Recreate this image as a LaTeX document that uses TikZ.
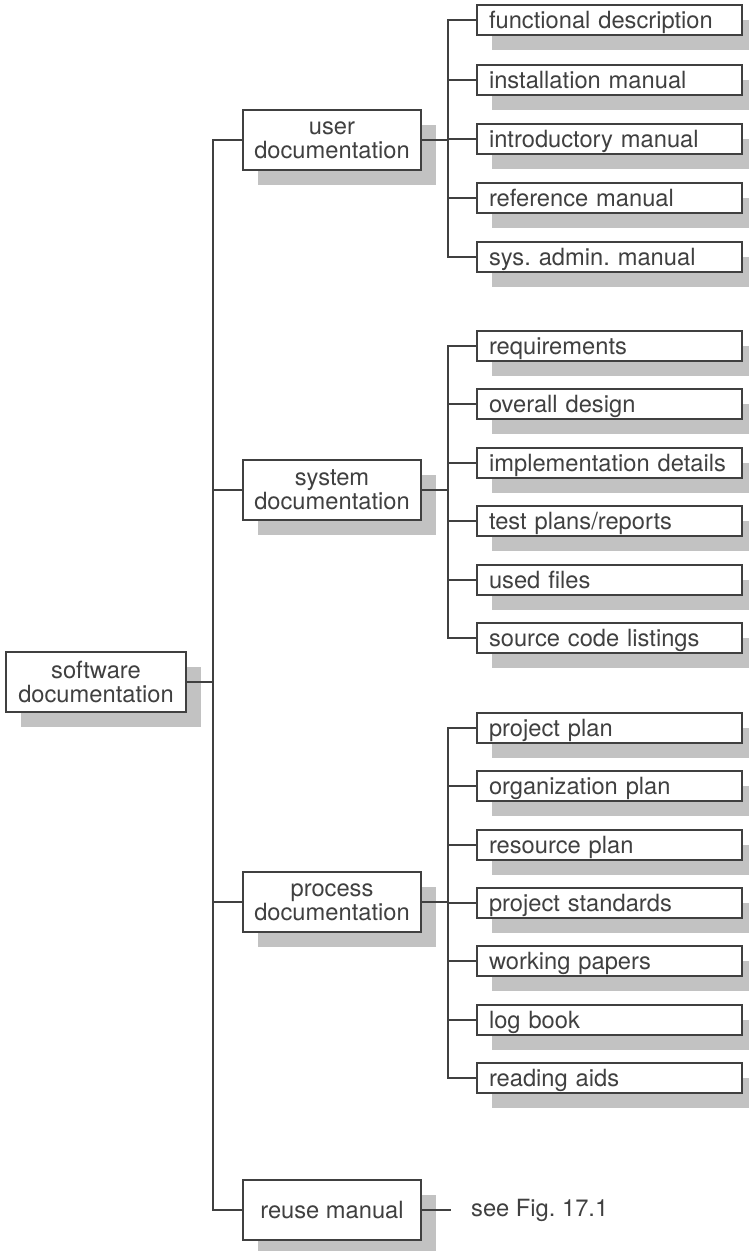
\documentclass[tikz,border=0pt]{standalone}
\usepackage{fontspec}
\setmainfont{TeX Gyre Heros}
\frenchspacing
\usetikzlibrary{shadows}
\begin{document}
\begin{tikzpicture}[x=1pt,y=-1pt,
  ink/.style={draw=black!75, line width=1.8pt},
  shade/.style={drop shadow={shadow xshift=15pt, shadow yshift=-15pt, fill=black!24, opacity=1}},
  box/.style={ink, fill=white, shade, text=black!75, inner sep=0pt,
    font=\fontsize{23.7}{23.7}\selectfont},
  midbox/.style={box, minimum width=178pt, minimum height=60pt, align=center},
  leaf/.style={box, minimum height=30.5pt, text width=241pt, inner xsep=12pt,
    align=left, text height=20pt, text depth=3pt},
  wire/.style={ink, line cap=rect}
]
\useasboundingbox (0,0) rectangle (749,1251);

% root and second level
\node[midbox, minimum width=180pt] (root) at (96,682) {software\\documentation};
\node[midbox] (user)  at (332,140) {user\\documentation};
\node[midbox] (sys)   at (332,490) {system\\documentation};
\node[midbox] (proc)  at (332,902) {process\\documentation};
\node[midbox] (reuse) at (332,1210) {reuse manual};
\node[anchor=west, inner xsep=21pt, inner ysep=0pt, text=black!75,
      font=\fontsize{23.7}{23.7}\selectfont] (see) at (450,1210) {see Fig. 17.1};

% user documentation leaves
\node[leaf] (u1) at (609.5,20)  {functional description};
\node[leaf] (u2) at (609.5,80)  {installation manual};
\node[leaf] (u3) at (609.5,139) {introductory manual};
\node[leaf] (u4) at (609.5,198) {reference manual};
\node[leaf] (u5) at (609.5,257) {sys. admin. manual};

% system documentation leaves
\node[leaf] (s1) at (609.5,346) {requirements};
\node[leaf] (s2) at (609.5,404) {overall design};
\node[leaf] (s3) at (609.5,463) {implementation details};
\node[leaf] (s4) at (609.5,521) {test plans/reports};
\node[leaf] (s5) at (609.5,580) {used files};
\node[leaf] (s6) at (609.5,638) {source code listings};

% process documentation leaves
\node[leaf] (p1) at (609.5,728)  {project plan};
\node[leaf] (p2) at (609.5,786)  {organization plan};
\node[leaf] (p3) at (609.5,845)  {resource plan};
\node[leaf] (p4) at (609.5,903)  {project standards};
\node[leaf] (p5) at (609.5,961)  {working papers};
\node[leaf] (p6) at (609.5,1020) {log book};
\node[leaf] (p7) at (609.5,1078) {reading aids};

% junction points of the buses
\coordinate (trunk) at (213,682);
\coordinate (ubus)  at (448,140);
\coordinate (sbus)  at (448,490);
\coordinate (pbus)  at (448,902);

% connectors
\draw[wire] (root.east) -- (trunk);
\foreach \m in {user,sys,proc,reuse} \draw[wire] (trunk) |- (\m.west);
\draw[wire] (user.east) -- (ubus);
\foreach \l in {u1,u2,u3,u4,u5} \draw[wire] (ubus) |- (\l.west);
\draw[wire] (sys.east) -- (sbus);
\foreach \l in {s1,s2,s3,s4,s5,s6} \draw[wire] (sbus) |- (\l.west);
\draw[wire] (proc.east) -- (pbus);
\foreach \l in {p1,p2,p3,p4,p5,p6,p7} \draw[wire] (pbus) |- (\l.west);
\draw[wire] (reuse.east) -- (see.west);
\end{tikzpicture}
\end{document}
